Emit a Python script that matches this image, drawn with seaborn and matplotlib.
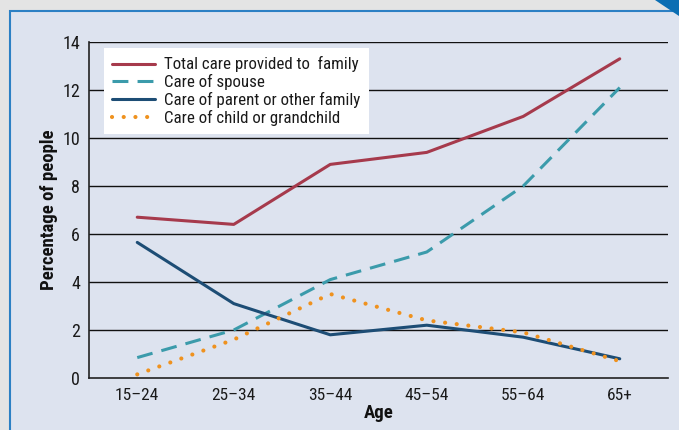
import matplotlib
matplotlib.use("Agg")
import matplotlib.pyplot as plt
import seaborn as sns
import pandas as pd
from matplotlib.patches import Rectangle, Polygon
from matplotlib import font_manager

ages = ["15–24", "25–34", "35–44", "45–54", "55–64", "65+"]
total_care = [6.7, 6.4, 8.9, 9.4, 10.9, 13.3]
spouse_care = [0.85, 2.0, 4.1, 5.25, 8.0, 12.1]
parent_care = [5.65, 3.1, 1.8, 2.2, 1.7, 0.8]
child_care = [0.15, 1.6, 3.5, 2.4, 1.9, 0.7]
y_ticks = [0, 2, 4, 6, 8, 10, 12, 14]

series_names = ["Total care provided to  family", "Care of spouse",
                "Care of parent or other family", "Care of child or grandchild"]
series_vals = [total_care, spouse_care, parent_care, child_care]
colors = ["#a63a4c", "#3b9bab", "#1d4d75", "#ef921f"]

sns.set_theme(style="white")
names = {f.name for f in font_manager.fontManager.ttflist}
fam = "DejaVu Sans"
for cand in ["Liberation Sans Narrow", "Roboto Condensed", "Open Sans Condensed",
             "Arial Narrow", "Liberation Sans"]:
    if cand in names:
        fam = cand
        break
plt.rcParams["font.family"] = [fam, "DejaVu Sans"]

fig = plt.figure(figsize=(6.79, 4.30), dpi=100)
fig.patch.set_facecolor("#e4e4e4")
W, H = 679, 430
fig.patches.append(Rectangle((10 / W, -0.1), 1, 1.1 - 11 / H, transform=fig.transFigure,
                             facecolor="#dde3ef", edgecolor="#2c80c4", linewidth=1.5, zorder=-5))
fig.patches.append(Polygon([(655 / W, 1), (1, 1), (1, 1 - 16 / H)], closed=True,
                           transform=fig.transFigure, facecolor="#0b6eb3", edgecolor="none", zorder=-4))

ax = fig.add_axes([89 / W, 1 - 378 / H, (668 - 89) / W, (378 - 42) / H])
ax.set_facecolor("none")

rows = []
for n, vals in zip(series_names, series_vals):
    for a, v in zip(ages, vals):
        rows.append({"Age": a, "Value": v, "Series": n})
df = pd.DataFrame(rows)

styles = [dict(linestyle="-", linewidth=2.2),
          dict(linestyle=(0, (5.2, 3.0)), linewidth=2.2),
          dict(linestyle="-", linewidth=2.2),
          dict(linestyle=(0, (0.01, 2.8)), dash_capstyle="round", linewidth=3.0)]
for n, c, st in zip(series_names, colors, styles):
    sub = df[df["Series"] == n]
    sns.lineplot(data=sub, x="Age", y="Value", ax=ax, color=c,
                 label=n, sort=False, **st)

ax.set_xlim(-0.5, 5.5)
ax.set_ylim(0, 14)
ax.set_yticks(y_ticks)
ax.set_yticklabels([str(t) for t in y_ticks], fontsize=13, color="#1a1a1a")
ax.set_xticks(range(len(ages)))
ax.set_xticklabels(ages, fontsize=12.5, color="#1a1a1a")
ax.tick_params(axis="x", which="major", length=0, pad=7)
ax.set_xticks([i - 0.5 for i in range(len(ages) + 1)], minor=True)
ax.tick_params(axis="x", which="minor", length=5, width=1, color="#222222", direction="inout")
ax.tick_params(axis="y", which="major", length=5, width=1, color="#222222", direction="out", pad=1.5)
for y in y_ticks[1:]:
    ax.axhline(y, color="#111111", linewidth=1, zorder=0.5)

for s in ["top", "right"]:
    ax.spines[s].set_visible(False)
for s in ["left", "bottom"]:
    ax.spines[s].set_color("#222222")
    ax.spines[s].set_linewidth(1.2)

ax.set_xlabel("Age", fontsize=13.5, fontweight="bold", labelpad=1, color="#111111")
ax.set_ylabel("Percentage of people", fontsize=13.5, fontweight="bold", labelpad=3, color="#111111")

leg = ax.legend(loc="upper left", bbox_to_anchor=(15 / 579, 1 - 6 / 336), frameon=True,
                fancybox=False, framealpha=1, edgecolor="none", facecolor="white",
                fontsize=12.2, handlelength=2.5, handletextpad=0.55, labelspacing=0.1,
                borderpad=0.5, borderaxespad=0)
leg.get_frame().set_linewidth(0)
for t in leg.get_texts():
    t.set_color("#1a1a1a")

fig.savefig("out.png", dpi=100)
